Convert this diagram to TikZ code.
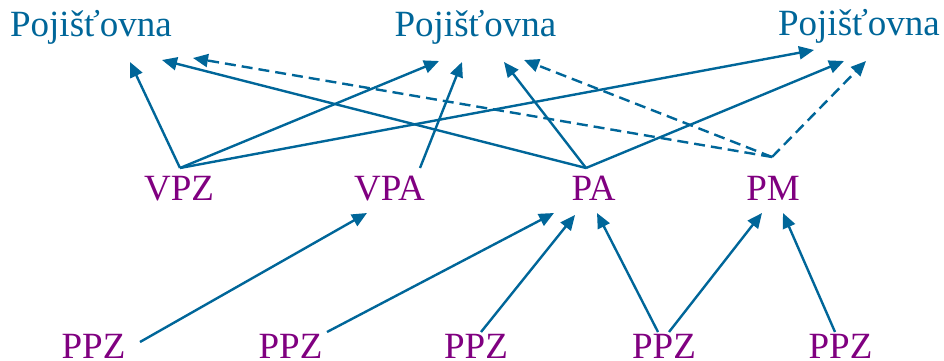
\documentclass[tikz,border=0pt]{standalone}
\usepackage{fontspec}
\setmainfont{Liberation Serif}
\usetikzlibrary{arrows.meta}
\definecolor{linkblue}{RGB}{0,102,153}
\definecolor{rolepurple}{RGB}{128,0,128}
\tikzset{
  ins/.style={anchor=base, inner sep=0pt, text=linkblue, font=\fontsize{37}{40}\selectfont},
  role/.style={anchor=base, inner sep=0pt, text=rolepurple, font=\fontsize{37}{40}\selectfont},
  link/.style={draw=linkblue, line width=2.4pt, -{Triangle[length=15pt,width=13pt]}, line join=miter},
  dlink/.style={link, dash pattern=on 11pt off 6pt}
}
\begin{document}
\begin{tikzpicture}[x=1pt,y=-1pt]
\useasboundingbox (0,0) rectangle (944,361);
% insurers
\node[ins] (p1) at (91,37) {Pojišťovna};
\node[ins] (p2) at (475.5,37) {Pojišťovna};
\node[ins] (p3) at (859,36) {Pojišťovna};
% intermediaries
\node[role] (vpz) at (179,200) {VPZ};
\node[role] (vpa) at (389.5,200) {VPA};
\node[role] (pa) at (593.5,200) {PA};
\node[role] (pm) at (773,200) {PM};
% bottom
\node[role] (q1) at (93.5,358.5) {PPZ};
\node[role] (q2) at (290.5,358.5) {PPZ};
\node[role] (q3) at (476,358.5) {PPZ};
\node[role] (q4) at (664,358.5) {PPZ};
\node[role] (q5) at (840.5,358.5) {PPZ};
% junctions
\coordinate (jvpz) at (180,168);
\coordinate (jvpa) at (420,168);
\coordinate (jpa) at (586,168);
\coordinate (jpm) at (772,157);
% tips at insurers
\coordinate (p1a) at (130,62);
\coordinate (p1b) at (162,60);
\coordinate (p1c) at (193,58);
\coordinate (p2a) at (439,61);
\coordinate (p2b) at (462,62);
\coordinate (p2c) at (504,62);
\coordinate (p2d) at (524,60);
\coordinate (p3a) at (814,50);
\coordinate (p3b) at (844,61);
\coordinate (p3c) at (866,61);
% tips at intermediaries
\coordinate (vpat) at (367,213);
\coordinate (pat1) at (554,213);
\coordinate (pat2) at (575,215);
\coordinate (pat3) at (597,213);
\coordinate (pmt1) at (762,213);
\coordinate (pmt2) at (783,213);
% starts at bottom
\coordinate (s1) at (140,342);
\coordinate (s2) at (327,332);
\coordinate (s3) at (481,332);
\coordinate (s4a) at (658,332);
\coordinate (s4b) at (669,332);
\coordinate (s5) at (835,332);
% upper links
\draw[link] (jvpz) -- (p1a);
\draw[link] (jvpz) -- (p2a);
\draw[link] (jvpz) -- (p3a);
\draw[link] (jvpa) -- (p2b);
\draw[link] (jpa) -- (p1b);
\draw[link] (jpa) -- (p2c);
\draw[link] (jpa) -- (p3b);
\draw[dlink] (jpm) -- (p1c);
\draw[dlink] (jpm) -- (p2d);
\draw[dlink] (jpm) -- (p3c);
% lower links
\draw[link] (s1) -- (vpat);
\draw[link] (s2) -- (pat1);
\draw[link] (s3) -- (pat2);
\draw[link] (s4a) -- (pat3);
\draw[link] (s4b) -- (pmt1);
\draw[link] (s5) -- (pmt2);
\end{tikzpicture}
\end{document}
